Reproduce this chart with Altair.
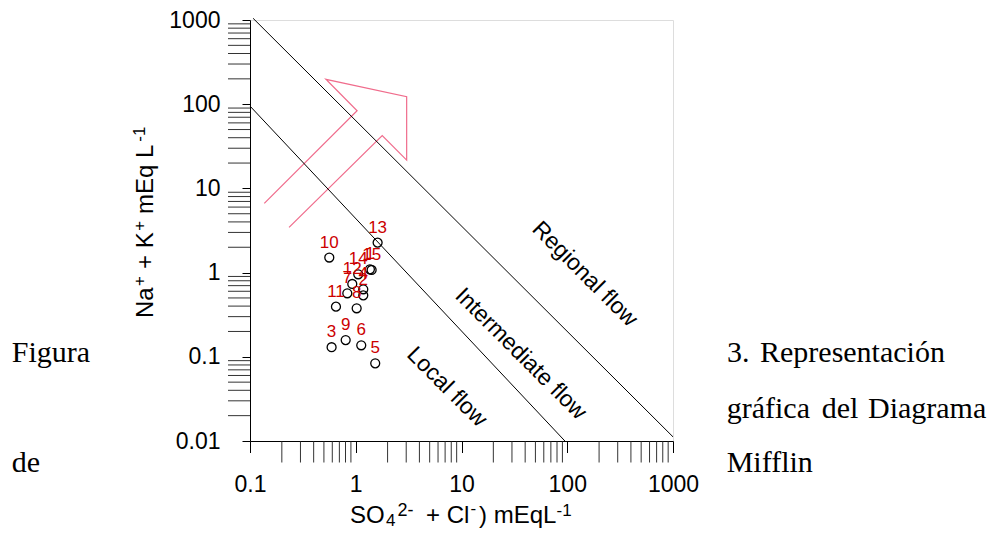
import altair as alt
import pandas as pd

# ---- data ----
sample_id = [str(i) for i in range(1, 16)]
so4_cl = [1.361, 1.178, 0.591, 1.178, 1.528, 1.127, 0.832, 1.02, 0.803, 0.562,
          0.650, 0.927, 1.61, 1.056, 1.413]
na_k = [1.094, 0.537, 0.130, 0.634, 0.0837, 0.137, 0.568, 0.377, 0.158, 1.51,
        0.394, 0.733, 2.27, 0.955, 1.074]

# boundary lines (data units)
line_name = ["upper", "upper", "lower", "lower"]
line_x = [0.107, 1000, 0.1, 95]
line_y = [1047, 0.0112, 95, 0.01]

# arrow outline (data units)
arrow_x = [0.1365, 1.03, 0.522, 3.03, 3.03, 1.78, 0.234]
arrow_y = [6.65, 83.7, 197.6, 122.7, 21.7, 42.3, 3.45]

# flow labels
flow_text = ["Regional flow", "Intermediate flow", "Local flow"]
flow_x = [146.6, 36.4, 7.28]
flow_y = [0.962, 0.108, 0.0438]

major_x = [0.1, 1, 10, 100, 1000]
major_y = [0.01, 0.1, 1, 10, 100, 1000]
minor_x = [m * d for d in [0.1, 1, 10, 100] for m in range(2, 10)]
minor_y = [m * d for d in [0.01, 0.1, 1, 10, 100] for m in range(2, 10)]

# axis titles split into normal / super- / subscript pieces
xt_text = ["SO", "4", "2-", "+ Cl", "-", ") mEqL", "-1"]
xt_left = [350, 386, 397.5, 426, 470.5, 479, 556.5]
xt_base = [522.5, 526, 516, 522.5, 513.5, 522.5, 516]
xt_size = [24, 17, 18, 24, 17, 24, 17]

yt_text = ["Na", "+", "+ K", "+", "mEq L", "-1"]
yt_start = [318, 286, 269, 230.8, 213.9, 141.7]
yt_base = [153.3, 145, 153.3, 145, 153.3, 145]
yt_size = [24, 17, 24, 17, 24, 17]

# surrounding document words
doc_words = ["Figura", "de", "3.", "Representación", "gráfica", "del", "Diagrama", "Mifflin"]
doc_left = [11.7, 11.7, 727, 760, 726.7, 821.7, 868, 726.7]
doc_base = [361.7, 471.7, 361.7, 361.7, 418.3, 418.3, 418.3, 471.7]

W, H = 423, 421
PX0, PY0 = 250, 20

xs = alt.Scale(type="log", domain=[0.1, 1000], nice=False)
ys = alt.Scale(type="log", domain=[0.01, 1000], nice=False)

pts = pd.DataFrame({"x": so4_cl, "y": na_k, "id": sample_id})
lines = pd.DataFrame({"x": line_x, "y": line_y, "g": line_name})
arrow = pd.DataFrame({"x": arrow_x, "y": arrow_y, "o": list(range(len(arrow_x)))})
flows = pd.DataFrame({"x": flow_x, "y": flow_y, "t": flow_text})
mx = pd.DataFrame({"x": minor_x})
my = pd.DataFrame({"y": minor_y})
words = pd.DataFrame({"w": doc_words,
                      "px": [v - PX0 for v in doc_left],
                      "py": [v - PY0 for v in doc_base]})
xtitle = pd.DataFrame({"w": xt_text,
                       "px": [v - PX0 for v in xt_left],
                       "py": [v - PY0 for v in xt_base],
                       "fs": xt_size})
ytitle = pd.DataFrame({"w": yt_text,
                       "px": [v - PX0 for v in yt_base],
                       "py": [v - PY0 for v in yt_start],
                       "fs": yt_size})

x_axis = alt.Axis(values=major_x, format="~g", tickSize=11.5, labelPadding=21,
                  labelFont="Liberation Sans", labelFontSize=23, labelColor="black",
                  domainColor="black", tickColor="black", grid=False,
                  labelFlush=False, labelOverlap=False)
y_axis = alt.Axis(values=major_y, format="~g", tickSize=8, labelPadding=22,
                  labelFont="Liberation Sans", labelFontSize=23, labelColor="black",
                  domainColor="black", tickColor="black", grid=False,
                  labelFlush=False, labelOverlap=False)


def X(field="x"):
    return alt.X(f"{field}:Q", scale=xs, axis=x_axis, title="")


def Y(field="y"):
    return alt.Y(f"{field}:Q", scale=ys, axis=y_axis, title="")


base_pts = alt.Chart(pts)

points = base_pts.mark_point(shape="circle", filled=False, color="black", opacity=1,
                             size=80, strokeWidth=1.3).encode(x=X(), y=Y())

labels = base_pts.mark_text(color="#cc0000", font="Liberation Sans", fontSize=17,
                            dy=-15, baseline="middle", align="center").encode(
    x=X(), y=Y(), text="id:N")

bound = alt.Chart(lines).mark_line(color="black", strokeWidth=1, clip=False).encode(
    x=X(), y=Y(), detail="g:N")

arr = alt.Chart(arrow).mark_line(color="#f06c8c", strokeWidth=1.2).encode(
    x=X(), y=Y(), order="o:Q")

flow_lbl = alt.Chart(flows).mark_text(angle=45, font="Liberation Sans", fontSize=23,
                                      color="black", align="center",
                                      baseline="middle").encode(
    x=X(), y=Y(), text="t:N")

minor_xt = alt.Chart(mx).mark_rule(color="#333333", strokeWidth=1).encode(
    x=X(), y=alt.value(H + 0.5), y2=alt.value(H + 21.5))

minor_yt = alt.Chart(my).mark_rule(color="#333333", strokeWidth=1).encode(
    y=Y(), x=alt.value(-22), x2=alt.value(0))

doc = alt.Chart(words).mark_text(font="Liberation Serif", fontSize=30, color="black",
                                 align="left", baseline="alphabetic").encode(
    x=alt.X("px:Q", scale=None),
    y=alt.Y("py:Q", scale=None),
    text="w:N",
)

xt_layer = alt.Chart(xtitle).mark_text(font="Liberation Sans", color="black",
                                       align="left", baseline="alphabetic").encode(
    x=alt.X("px:Q", scale=None),
    y=alt.Y("py:Q", scale=None),
    size=alt.Size("fs:Q", scale=None),
    text="w:N",
)

yt_layer = alt.Chart(ytitle).mark_text(font="Liberation Sans", color="black", angle=270,
                                       align="left", baseline="alphabetic").encode(
    x=alt.X("px:Q", scale=None),
    y=alt.Y("py:Q", scale=None),
    size=alt.Size("fs:Q", scale=None),
    text="w:N",
)

chart = alt.layer(arr, bound, minor_xt, minor_yt, points, labels, flow_lbl,
                  doc, xt_layer, yt_layer).properties(
    width=W, height=H,
    autosize=alt.AutoSizeParams(type="none"),
    padding={"left": PX0 - 8, "top": PY0 - 8, "right": 989 - (PX0 - 8) - W, "bottom": 89},
).configure_view(stroke="#808080", strokeWidth=1).configure(background="white")

chart.save("out.html", embed_options={"renderer": "svg", "actions": False})
